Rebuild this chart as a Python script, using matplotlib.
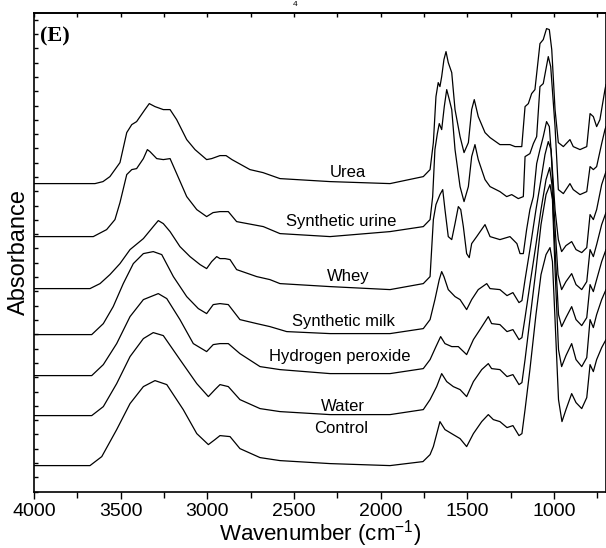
import matplotlib
matplotlib.use('Agg')
import matplotlib.pyplot as plt
from matplotlib.ticker import MultipleLocator

plt.rcParams['font.family'] = ['Liberation Sans', 'DejaVu Sans']
plt.rcParams['mathtext.default'] = 'regular'

# FTIR spectra (wavenumber cm-1, absorbance a.u. with offsets)
labels = ['Urea', 'Synthetic urine', 'Whey', 'Synthetic milk',
          'Hydrogen peroxide', 'Water', 'Control']

urea_wn = [4000, 3648, 3602, 3562, 3504, 3465, 3436, 3408, 3360, 3335, 3302, 3254, 3215, 3177,
           3119, 3071, 3004, 2975, 2927, 2892, 2858, 2754, 2679, 2581, 2292, 1946, 1754, 1715,
           1696, 1681, 1668, 1658, 1648, 1635, 1623, 1610, 1590, 1571, 1542, 1519, 1494, 1475,
           1460, 1437, 1398, 1369, 1312, 1283, 1254, 1225, 1186, 1167, 1148, 1129, 1110, 1081,
           1062, 1043, 1027, 1013, 994, 975, 946, 908, 889, 850, 811, 792, 773, 754, 735, 706, 700]
urea_ab = [3.08, 3.08, 3.10, 3.15, 3.29, 3.59, 3.67, 3.70, 3.82, 3.88, 3.85, 3.82, 3.82, 3.72,
           3.52, 3.42, 3.32, 3.33, 3.36, 3.36, 3.32, 3.22, 3.19, 3.13, 3.10, 3.08, 3.15, 3.22,
           3.49, 3.95, 4.09, 4.05, 4.15, 4.32, 4.40, 4.29, 4.19, 3.82, 3.55, 3.39, 3.49, 3.82,
           3.92, 3.75, 3.59, 3.54, 3.47, 3.47, 3.47, 3.45, 3.45, 3.85, 3.88, 3.98, 4.02, 4.48,
           4.52, 4.63, 4.62, 4.42, 3.82, 3.49, 3.45, 3.52, 3.45, 3.42, 3.45, 3.78, 3.75, 3.65,
           3.72, 4.02, 4.07]

urine_wn = [4000, 3658, 3581, 3533, 3504, 3465, 3436, 3408, 3369, 3346, 3331, 3292, 3254, 3215,
            3177, 3119, 3061, 3004, 2967, 2927, 2879, 2831, 2677, 2581, 2292, 1946, 1754, 1715,
            1700, 1687, 1673, 1662, 1648, 1633, 1619, 1604, 1590, 1571, 1542, 1519, 1494, 1475,
            1456, 1437, 1398, 1369, 1312, 1273, 1244, 1206, 1177, 1167, 1139, 1119, 1100, 1081,
            1062, 1033, 1019, 994, 975, 946, 908, 889, 850, 811, 792, 773, 754, 725, 706, 700]
urine_ab = [2.55, 2.55, 2.62, 2.72, 2.89, 3.17, 3.22, 3.23, 3.33, 3.42, 3.40, 3.33, 3.32, 3.33,
            3.18, 2.95, 2.82, 2.75, 2.79, 2.80, 2.80, 2.70, 2.65, 2.58, 2.55, 2.60, 2.65, 2.72,
            2.95, 3.42, 3.58, 3.68, 3.62, 3.85, 4.02, 3.92, 3.82, 3.42, 3.05, 2.90, 3.05, 3.35,
            3.47, 3.32, 3.12, 3.05, 3.00, 2.95, 2.97, 2.93, 2.95, 3.35, 3.38, 3.48, 3.55, 4.05,
            4.08, 4.35, 4.25, 3.65, 3.02, 2.98, 3.08, 3.02, 2.97, 3.00, 3.25, 3.22, 3.25, 3.48,
            3.62, 3.65]

whey_wn = [4000, 3677, 3619, 3562, 3504, 3446, 3369, 3312, 3283, 3254, 3215, 3158, 3100, 3042,
           3004, 2975, 2946, 2927, 2898, 2869, 2831, 2715, 2639, 2581, 2292, 1946, 1754, 1715,
           1706, 1696, 1681, 1658, 1642, 1629, 1610, 1590, 1571, 1552, 1538, 1523, 1504, 1489,
           1475, 1446, 1398, 1369, 1312, 1254, 1214, 1196, 1177, 1158, 1139, 1119, 1100, 1081,
           1062, 1043, 1027, 1013, 994, 975, 956, 931, 898, 873, 840, 811, 792, 773, 754, 725, 700]
whey_ab = [2.03, 2.03, 2.08, 2.17, 2.28, 2.42, 2.53, 2.65, 2.71, 2.68, 2.60, 2.45, 2.35, 2.27,
           2.23, 2.30, 2.35, 2.33, 2.33, 2.32, 2.22, 2.15, 2.12, 2.08, 2.05, 2.02, 2.08, 2.15,
           2.42, 2.72, 2.87, 2.97, 3.02, 2.82, 2.55, 2.52, 2.68, 2.85, 2.82, 2.65, 2.38, 2.34,
           2.48, 2.55, 2.67, 2.55, 2.52, 2.55, 2.48, 2.38, 2.38, 2.62, 2.82, 2.95, 3.28, 3.42,
           3.55, 3.70, 3.65, 3.32, 2.82, 2.52, 2.40, 2.46, 2.50, 2.42, 2.39, 2.44, 2.77, 2.72,
           2.82, 3.07, 3.20]

milk_wn = [4000, 3667, 3600, 3543, 3485, 3427, 3369, 3312, 3263, 3196, 3119, 3052, 3004, 2966,
           2927, 2879, 2812, 2715, 2639, 2542, 2292, 1946, 1754, 1715, 1687, 1662, 1648, 1635,
           1610, 1571, 1542, 1504, 1475, 1437, 1388, 1369, 1312, 1271, 1237, 1202, 1185, 1167,
           1139, 1104, 1075, 1052, 1033, 1017, 1000, 977, 956, 931, 898, 873, 840, 811, 792,
           773, 754, 725, 700]
milk_ab = [1.57, 1.57, 1.68, 1.85, 2.08, 2.28, 2.38, 2.40, 2.37, 2.15, 1.95, 1.83, 1.78, 1.87,
           1.88, 1.87, 1.72, 1.68, 1.65, 1.60, 1.58, 1.58, 1.63, 1.72, 1.92, 2.12, 2.20, 2.15,
           2.02, 1.95, 1.92, 1.82, 1.92, 2.02, 2.08, 2.03, 2.02, 1.96, 1.99, 1.89, 1.91, 2.12,
           2.42, 2.82, 3.12, 3.37, 3.50, 3.42, 2.82, 2.17, 2.02, 2.10, 2.18, 2.07, 2.02, 2.10,
           2.42, 2.35, 2.47, 2.67, 2.79]

h2o2_wn = [4000, 3667, 3600, 3523, 3446, 3369, 3283, 3234, 3158, 3081, 3004, 2966, 2927, 2879,
           2812, 2696, 2581, 2292, 1946, 1754, 1715, 1681, 1654, 1629, 1590, 1552, 1504, 1465,
           1427, 1379, 1360, 1312, 1271, 1237, 1202, 1185, 1167, 1139, 1104, 1075, 1046, 1025,
           1012, 994, 974, 956, 931, 898, 873, 840, 811, 792, 773, 754, 725, 700]
h2o2_ab = [1.16, 1.16, 1.27, 1.48, 1.75, 1.92, 1.98, 1.93, 1.72, 1.48, 1.40, 1.47, 1.48, 1.48,
           1.38, 1.25, 1.22, 1.18, 1.18, 1.23, 1.32, 1.45, 1.55, 1.48, 1.45, 1.45, 1.37, 1.52,
           1.62, 1.75, 1.68, 1.67, 1.60, 1.62, 1.52, 1.54, 1.74, 2.07, 2.47, 2.82, 3.12, 3.24,
           3.07, 2.42, 1.77, 1.65, 1.74, 1.85, 1.72, 1.66, 1.74, 2.07, 2.00, 2.12, 2.30, 2.42]

water_wn = [4000, 3667, 3600, 3523, 3446, 3369, 3312, 3254, 3158, 3061, 2994, 2956, 2927, 2879,
            2812, 2696, 2581, 2292, 1946, 1754, 1715, 1677, 1648, 1619, 1581, 1542, 1504, 1465,
            1417, 1379, 1360, 1312, 1271, 1237, 1202, 1185, 1167, 1139, 1104, 1075, 1046, 1023,
            1009, 994, 974, 956, 931, 898, 873, 840, 811, 792, 773, 754, 725, 700]
water_ab = [0.76, 0.76, 0.85, 1.08, 1.35, 1.53, 1.59, 1.56, 1.32, 1.08, 0.95, 1.02, 1.07, 1.05,
            0.92, 0.83, 0.80, 0.77, 0.77, 0.82, 0.92, 1.05, 1.18, 1.10, 1.05, 1.02, 0.95, 1.10,
            1.22, 1.28, 1.23, 1.22, 1.15, 1.17, 1.07, 1.09, 1.32, 1.72, 2.22, 2.67, 2.97, 3.07,
            2.92, 2.22, 1.42, 1.25, 1.36, 1.48, 1.32, 1.25, 1.34, 1.72, 1.64, 1.77, 1.92, 2.02]

control_wn = [4000, 3677, 3609, 3523, 3446, 3369, 3302, 3234, 3139, 3061, 2994, 2956, 2927, 2869,
              2812, 2696, 2581, 2292, 1946, 1756, 1715, 1696, 1658, 1629, 1581, 1542, 1504, 1465,
              1417, 1379, 1350, 1312, 1271, 1237, 1202, 1185, 1167, 1139, 1104, 1075, 1046, 1023,
              1009, 994, 974, 954, 931, 898, 873, 840, 811, 792, 773, 754, 725, 700]
control_ab = [0.26, 0.26, 0.35, 0.62, 0.88, 1.05, 1.11, 1.07, 0.82, 0.58, 0.47, 0.52, 0.56, 0.55,
              0.43, 0.34, 0.31, 0.28, 0.26, 0.30, 0.37, 0.45, 0.70, 0.62, 0.57, 0.53, 0.45, 0.58,
              0.70, 0.77, 0.72, 0.70, 0.64, 0.66, 0.56, 0.58, 0.82, 1.22, 1.77, 2.17, 2.37, 2.44,
              2.30, 1.72, 0.92, 0.70, 0.82, 0.98, 0.89, 0.83, 0.94, 1.27, 1.20, 1.32, 1.44, 1.52]

# label anchors (wavenumber, absorbance)
label_wn = [2192, 2225, 2189, 2217, 2235, 2217, 2229]
label_ab = [3.19, 2.70, 2.15, 1.70, 1.35, 0.85, 0.63]

spectra = [(urea_wn, urea_ab), (urine_wn, urine_ab), (whey_wn, whey_ab), (milk_wn, milk_ab),
           (h2o2_wn, h2o2_ab), (water_wn, water_ab), (control_wn, control_ab)]

fig = plt.figure(figsize=(6.06, 5.48), dpi=100)
ax = fig.add_axes([34 / 606, 1 - 491.6 / 548, 572 / 606, 478.6 / 548])

for (wn, ab), name, lx, ly in zip(spectra, labels, label_wn, label_ab):
    ax.plot(wn, ab, color='black', lw=0.9)
    ax.text(lx, ly, name, fontsize=12, ha='center', va='center')

ax.set_xlim(4000, 700)
ax.set_ylim(0, 4.786)

ax.xaxis.set_major_locator(MultipleLocator(500))
ax.xaxis.set_minor_locator(MultipleLocator(250))
ax.yaxis.set_major_locator(MultipleLocator(0.143))
ax.tick_params(axis='x', which='major', direction='out', length=5, width=1, labelsize=14, pad=3)
ax.tick_params(axis='x', which='minor', direction='out', length=4, width=1)
ax.tick_params(axis='y', which='both', direction='in', length=3, width=1, labelleft=False)

top = ax.secondary_xaxis('top')
top.xaxis.set_major_locator(MultipleLocator(250))
top.tick_params(direction='in', length=3, width=1, labeltop=False)
top.spines['top'].set_linewidth(1.2)

for s in ax.spines.values():
    s.set_linewidth(1.2)

ax.set_xlabel('Wavenumber (cm$^{-1}$)', fontsize=16, labelpad=-1)
ax.set_ylabel('Absorbance', fontsize=17, labelpad=3)

ax.text(0.01, 0.972, '(E)', transform=ax.transAxes, fontsize=16, fontweight='bold',
        family='Liberation Serif', va='top', ha='left')

# small remnant of the previous panel's text at the top edge
fig.text(295 / 606, 0.999, '4', fontsize=6, ha='center', va='top')

fig.savefig('out.png', dpi=100)
